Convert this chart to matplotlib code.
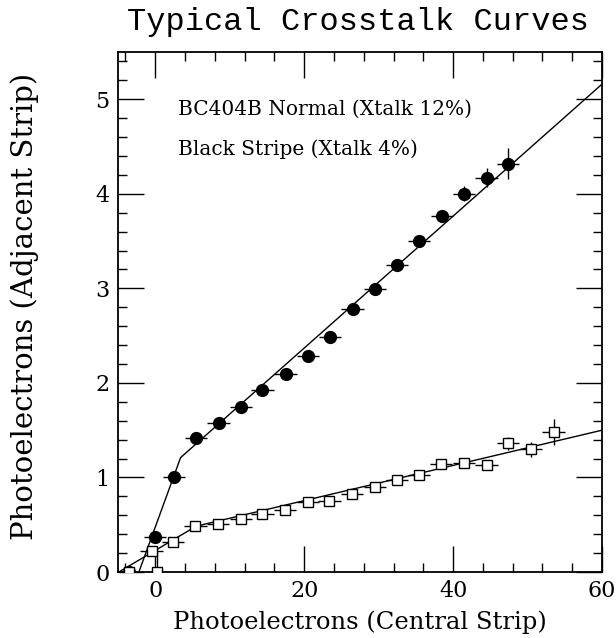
import numpy as np
import matplotlib
matplotlib.use("Agg")
import matplotlib.pyplot as plt
from matplotlib.ticker import MultipleLocator

# BC404B normal scintillator (filled circles)
normal_x = [-3.5, 0.0, 2.5, 5.5, 8.5, 11.5, 14.4, 17.5, 20.5, 23.5, 26.5,
            29.5, 32.5, 35.4, 38.5, 41.5, 44.5, 47.4]
normal_y = [0.0, 0.37, 1.01, 1.42, 1.58, 1.75, 1.93, 2.09, 2.28, 2.49, 2.78,
            2.99, 3.25, 3.50, 3.77, 4.00, 4.17, 4.32]
normal_yerr = [0.02, 0.02, 0.02, 0.02, 0.02, 0.02, 0.02, 0.02, 0.02, 0.02, 0.02,
               0.03, 0.03, 0.03, 0.06, 0.08, 0.1, 0.16]

# black stripe (open squares)
stripe_x = [-3.5, 0.3, -0.5, 2.4, 5.4, 8.4, 11.5, 14.4, 17.4, 20.5, 23.4,
            26.4, 29.5, 32.5, 35.4, 38.4, 41.5, 44.5, 47.4, 50.5, 53.5]
stripe_y = [0.0, 0.0, 0.22, 0.32, 0.49, 0.51, 0.56, 0.61, 0.66, 0.74, 0.75,
            0.82, 0.90, 0.97, 1.03, 1.14, 1.15, 1.13, 1.36, 1.30, 1.48]
stripe_yerr = [0.02, 0.21, 0.02, 0.02, 0.02, 0.02, 0.02, 0.02, 0.02, 0.02, 0.02,
               0.02, 0.02, 0.02, 0.02, 0.03, 0.03, 0.05, 0.07, 0.08, 0.14]
xerr = 1.5

# fitted curves
fit_normal_x = [-2.2, 3.4, 60.0]
fit_normal_y = [0.0, 1.21, 5.16]
fit_stripe_x = [-4.9, 5.5, 60.0]
fit_stripe_y = [0.0, 0.485, 1.50]

plt.rcParams["font.family"] = "DejaVu Serif"

fig = plt.figure(figsize=(6.16, 6.38), dpi=100)
ax = fig.add_axes([0.1916, 0.1034, 0.7857, 0.8151])

ax.errorbar(normal_x, normal_y, xerr=xerr, yerr=normal_yerr, fmt="o",
            color="black", ms=8.5, elinewidth=1.0, capsize=0, zorder=3)
ax.errorbar(stripe_x, stripe_y, xerr=xerr, yerr=stripe_yerr, fmt="s",
            color="black", mfc="white", mec="black", ms=7, mew=1.0,
            elinewidth=1.0, capsize=0, zorder=3)
ax.plot(fit_normal_x, fit_normal_y, color="black", lw=1.0, zorder=2)
ax.plot(fit_stripe_x, fit_stripe_y, color="black", lw=1.0, zorder=2)

ax.set_xlim(-5, 60)
ax.set_ylim(0, 5.5)
ax.xaxis.set_major_locator(MultipleLocator(20))
ax.xaxis.set_minor_locator(MultipleLocator(4))
ax.yaxis.set_major_locator(MultipleLocator(1))
ax.yaxis.set_minor_locator(MultipleLocator(0.2))
ax.tick_params(which="both", direction="in", top=True, right=True,
               width=1.0, labelsize=16)
ax.tick_params(which="major", length=18.5, pad=6)
ax.tick_params(which="minor", length=6.5)
for s in ax.spines.values():
    s.set_linewidth(1.3)

ax.set_xlabel("Photoelectrons (Central Strip)", fontsize=17.5, labelpad=6)
fig.text(25 / 616, 1 - 306 / 638, "Photoelectrons (Adjacent Strip)",
         fontsize=21, rotation=90, ha="center", va="center")

ax.text(3.0, 4.89, "BC404B Normal (Xtalk 12%)", fontsize=14.5, va="center")
ax.text(3.0, 4.47, "Black Stripe (Xtalk 4%)", fontsize=14.5, va="center")

fig.text(0.581, 0.966, "Typical Crosstalk Curves", family="Liberation Mono",
         fontsize=23, ha="center", va="center")

fig.savefig("out.png", dpi=100)
